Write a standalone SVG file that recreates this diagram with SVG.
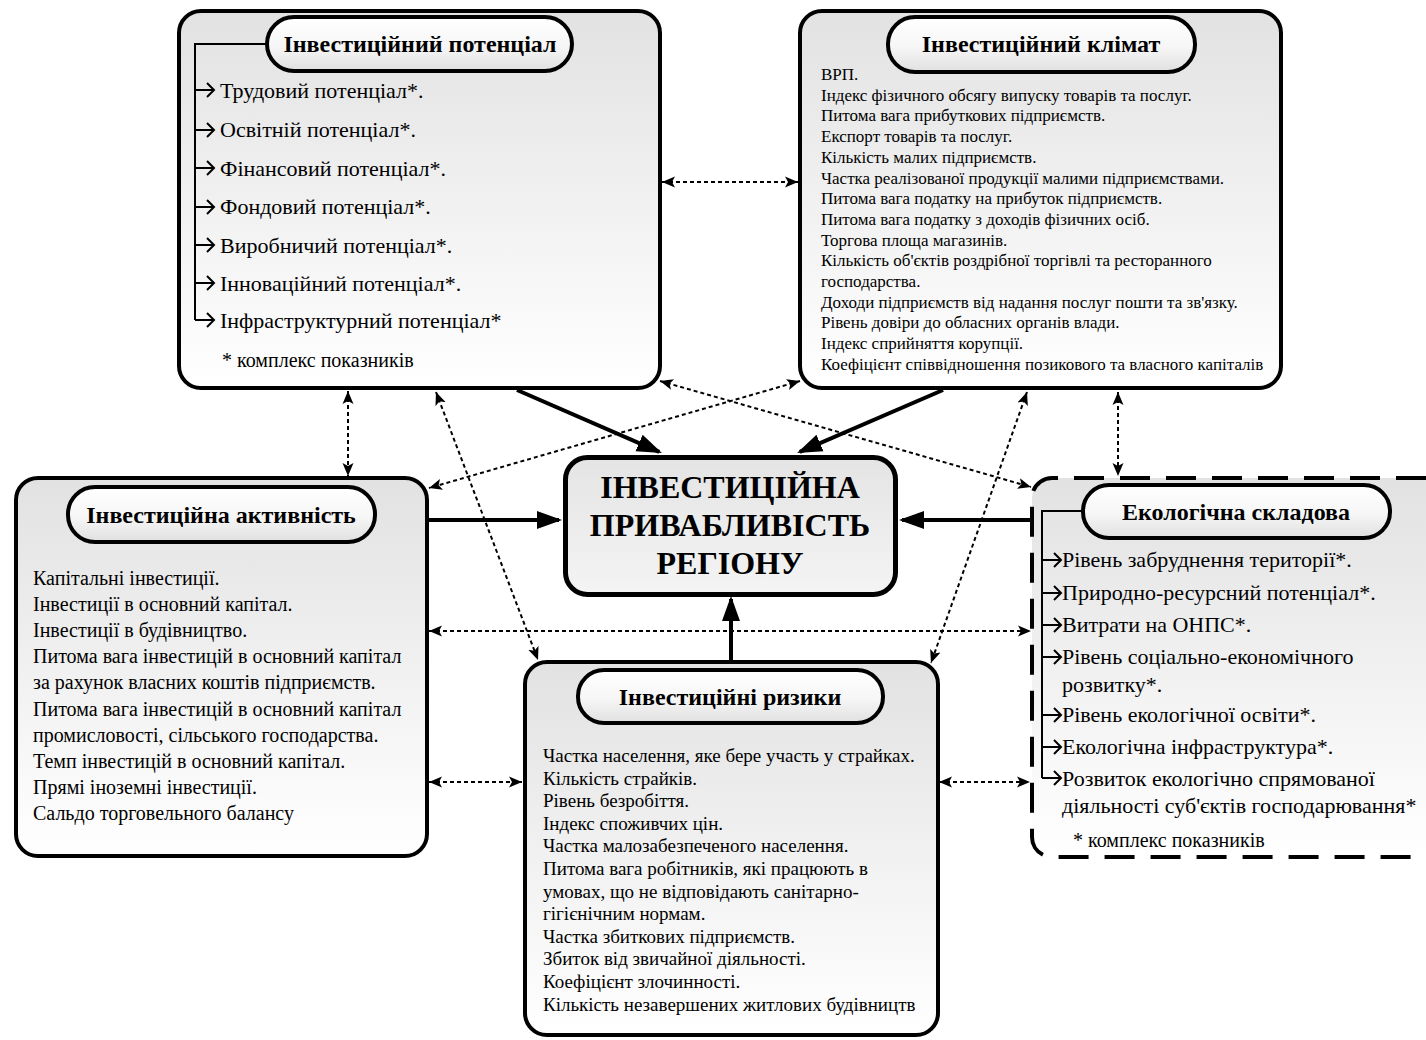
<svg xmlns="http://www.w3.org/2000/svg" width="1426" height="1040" viewBox="0 0 1426 1040">
  <defs>
    <linearGradient id="boxFill" x1="0" y1="0" x2="0" y2="1">
      <stop offset="0" stop-color="#e2e2e2"/>
      <stop offset="1" stop-color="#ffffff"/>
    </linearGradient>
    <linearGradient id="pillFill" x1="0" y1="0" x2="0" y2="1">
      <stop offset="0" stop-color="#ffffff"/>
      <stop offset="0.55" stop-color="#f6f6f6"/>
      <stop offset="1" stop-color="#e0e0e0"/>
    </linearGradient>
    <linearGradient id="centerFill" x1="0" y1="0" x2="0" y2="1">
      <stop offset="0" stop-color="#e4e4e4"/>
      <stop offset="1" stop-color="#f4f4f4"/>
    </linearGradient>
    <marker id="solidHead" markerUnits="userSpaceOnUse" markerWidth="26" markerHeight="20" viewBox="0 0 26 20" refX="22" refY="10" orient="auto">
      <path d="M0,1 L25,10 L0,19 z" fill="#000"/>
    </marker>
    <marker id="dotHead" markerUnits="userSpaceOnUse" markerWidth="14" markerHeight="12" viewBox="0 0 14 12" refX="13" refY="6" orient="auto-start-reverse">
      <path d="M0,0.5 L13,6 L0,11.5 L3,6 z" fill="#000"/>
    </marker>
    <marker id="chev" markerUnits="userSpaceOnUse" markerWidth="10" markerHeight="16" viewBox="0 0 10 16" refX="8" refY="8" orient="auto">
      <path d="M1,1 L8,8 L1,15" fill="none" stroke="#000" stroke-width="2"/>
    </marker>
    <style>
      .box { fill: url(#boxFill); stroke: #000; stroke-width: 4; }
      .pill { fill: url(#pillFill); stroke: #000; stroke-width: 4; }
      .title { font-family: "Liberation Serif", "Times New Roman", serif; font-weight: bold; font-size: 24px; text-anchor: middle; fill: #000; }
      .main { font-family: "Liberation Serif", "Times New Roman", serif; font-weight: bold; font-size: 32px; text-anchor: middle; fill: #000; }
      .txt { font-family: "Liberation Serif", "Times New Roman", serif; fill: #000; }
      .t22 { font-size: 22px; }
      .t20 { font-size: 20px; }
      .t19 { font-size: 19px; }
      .t17 { font-size: 17px; }
      .tree { fill: none; stroke: #000; stroke-width: 2; }
      .item { fill: none; stroke: #000; stroke-width: 2; marker-end: url(#chev); }
      .solid { fill: none; stroke: #000; stroke-width: 4; marker-end: url(#solidHead); }
      .dotted { fill: none; stroke: #000; stroke-width: 2; stroke-dasharray: 4 3; marker-start: url(#dotHead); marker-end: url(#dotHead); }
    </style>
  </defs>

  <rect width="1426" height="1040" fill="#ffffff"/>

  <!-- connectors -->
  <g id="connectors">
    <!-- main links into the central node -->
    <path class="solid" d="M517,390 L659.2,451.8"/>
    <path class="solid" d="M943,390 L799.8,451.8"/>
    <path class="solid" d="M428,520 L559,520"/>
    <path class="solid" d="M1032,520 L902,520"/>
    <path class="solid" d="M731,660 L731,599"/>
    <!-- mutual links between the factor groups -->
    <path class="dotted" d="M662,182 L798,182"/>
    <path class="dotted" d="M348,391 L348,476"/>
    <path class="dotted" d="M436,392 L538,660"/>
    <path class="dotted" d="M660,381 L1031,487"/>
    <path class="dotted" d="M800,381 L429,488"/>
    <path class="dotted" d="M1027,392 L931,663"/>
    <path class="dotted" d="M1118,392 L1118,476"/>
    <path class="dotted" d="M429,631 L1031,631"/>
    <path class="dotted" d="M429,782 L522,782"/>
    <path class="dotted" d="M939,782 L1030,782"/>
  </g>

  <!-- Інвестиційний потенціал -->
  <g id="node-potential">
    <rect class="box" x="179" y="11" width="481" height="377" rx="22"/>
    <path class="tree" d="M267,44 H195 V320"/>
    <path class="item" d="M195,90 H214"/>
    <path class="item" d="M195,130 H214"/>
    <path class="item" d="M195,168 H214"/>
    <path class="item" d="M195,207 H214"/>
    <path class="item" d="M195,245 H214"/>
    <path class="item" d="M195,283 H214"/>
    <path class="item" d="M195,320 H214"/>
    <rect class="pill" x="267" y="17" width="305" height="54" rx="27"/>
    <text class="title" x="420" y="52">Інвестиційний потенціал</text>
    <g class="txt t22">
      <text x="220" y="98">Трудовий потенціал*.</text>
      <text x="220" y="137">Освітній потенціал*.</text>
      <text x="220" y="176">Фінансовий потенціал*.</text>
      <text x="220" y="214">Фондовий потенціал*.</text>
      <text x="220" y="253">Виробничий потенціал*.</text>
      <text x="220" y="291">Інноваційний потенціал*.</text>
      <text x="220" y="328">Інфраструктурний потенціал*</text>
    </g>
    <text class="txt t20" x="222" y="367">* комплекс показників</text>
  </g>

  <!-- Інвестиційний клімат -->
  <g id="node-climate">
    <rect class="box" x="800" y="11" width="481" height="377" rx="22"/>
    <rect class="pill" x="888" y="17" width="307" height="55" rx="27"/>
    <text class="title" x="1041" y="52">Інвестиційний клімат</text>
    <g class="txt t17">
      <text x="821" y="80">ВРП.</text>
      <text x="821" y="100.7">Індекс фізичного обсягу випуску товарів та послуг.</text>
      <text x="821" y="121.4">Питома вага прибуткових підприємств.</text>
      <text x="821" y="142.1">Експорт товарів та послуг.</text>
      <text x="821" y="162.8">Кількість малих підприємств.</text>
      <text x="821" y="183.5">Частка реалізованої продукції малими підприємствами.</text>
      <text x="821" y="204.2">Питома вага податку на прибуток підприємств.</text>
      <text x="821" y="224.9">Питома вага податку з доходів фізичних осіб.</text>
      <text x="821" y="245.6">Торгова площа магазинів.</text>
      <text x="821" y="266.3">Кількість об'єктів роздрібної торгівлі та ресторанного</text>
      <text x="821" y="287">господарства.</text>
      <text x="821" y="307.7">Доходи підприємств від надання послуг пошти та зв'язку.</text>
      <text x="821" y="328.4">Рівень довіри до обласних органів влади.</text>
      <text x="821" y="349.1">Індекс сприйняття корупції.</text>
      <text x="821" y="369.8">Коефіцієнт співвідношення позикового та власного капіталів</text>
    </g>
  </g>

  <!-- Інвестиційна активність -->
  <g id="node-activity">
    <rect class="box" x="16" y="478" width="411" height="378" rx="22"/>
    <rect class="pill" x="68" y="487" width="307" height="55" rx="27"/>
    <text class="title" x="221" y="523">Інвестиційна активність</text>
    <g class="txt t20">
      <text x="33" y="585">Капітальні інвестиції.</text>
      <text x="33" y="611.1">Інвестиції в основний капітал.</text>
      <text x="33" y="637.2">Інвестиції в будівництво.</text>
      <text x="33" y="663.3">Питома вага інвестицій в основний капітал</text>
      <text x="33" y="689.4">за рахунок власних коштів підприємств.</text>
      <text x="33" y="715.5">Питома вага інвестицій в основний капітал</text>
      <text x="33" y="741.6">промисловості, сільського господарства.</text>
      <text x="33" y="767.7">Темп інвестицій в основний капітал.</text>
      <text x="33" y="793.8">Прямі іноземні інвестиції.</text>
      <text x="33" y="819.9">Сальдо торговельного балансу</text>
    </g>
  </g>

  <!-- Екологічна складова -->
  <g id="node-ecology">
    <path d="M1426,478 H1052 A20,20 0 0 0 1032,498 V837 A20,20 0 0 0 1052,857 H1426" fill="url(#boxFill)" stroke="#000" stroke-width="4" stroke-dasharray="30 16"/>
    <path class="tree" d="M1083,511 H1042 V778"/>
    <path class="item" d="M1042,560 H1061"/>
    <path class="item" d="M1042,593 H1061"/>
    <path class="item" d="M1042,625 H1061"/>
    <path class="item" d="M1042,657 H1061"/>
    <path class="item" d="M1042,715 H1061"/>
    <path class="item" d="M1042,747 H1061"/>
    <path class="item" d="M1042,778 H1061"/>
    <rect class="pill" x="1083" y="485" width="307" height="53" rx="26"/>
    <text class="title" x="1236" y="520">Екологічна складова</text>
    <g class="txt t22">
      <text x="1062" y="567">Рівень забруднення території*.</text>
      <text x="1062" y="600">Природно-ресурсний потенціал*.</text>
      <text x="1062" y="632">Витрати на ОНПС*.</text>
      <text x="1062" y="664">Рівень соціально-економічного</text>
      <text x="1062" y="692">розвитку*.</text>
      <text x="1062" y="722">Рівень екологічної освіти*.</text>
      <text x="1062" y="754">Екологічна інфраструктура*.</text>
      <text x="1062" y="786">Розвиток екологічно спрямованої</text>
      <text x="1062" y="813">діяльності суб'єктів господарювання*</text>
    </g>
    <text class="txt t20" x="1073" y="847">* комплекс показників</text>
  </g>

  <!-- Інвестиційні ризики -->
  <g id="node-risks">
    <rect class="box" x="525" y="662" width="413" height="373" rx="22"/>
    <rect class="pill" x="578" y="670" width="305" height="53" rx="26"/>
    <text class="title" x="730" y="705">Інвестиційні ризики</text>
    <g class="txt t19">
      <text x="543" y="762">Частка населення, яке бере участь у страйках.</text>
      <text x="543" y="784.6">Кількість страйків.</text>
      <text x="543" y="807.2">Рівень безробіття.</text>
      <text x="543" y="829.8">Індекс споживчих цін.</text>
      <text x="543" y="852.4">Частка малозабезпеченого населення.</text>
      <text x="543" y="875">Питома вага робітників, які працюють в</text>
      <text x="543" y="897.6">умовах, що не відповідають санітарно-</text>
      <text x="543" y="920.2">гігієнічним нормам.</text>
      <text x="543" y="942.8">Частка збиткових підприємств.</text>
      <text x="543" y="965.4">Збиток від звичайної діяльності.</text>
      <text x="543" y="988">Коефіцієнт злочинності.</text>
      <text x="543" y="1010.6">Кількість незавершених житлових будівництв</text>
    </g>
  </g>

  <!-- ІНВЕСТИЦІЙНА ПРИВАБЛИВІСТЬ РЕГІОНУ -->
  <g id="node-center">
    <rect x="565.5" y="457.5" width="330" height="137" rx="22" fill="url(#centerFill)" stroke="#000" stroke-width="5"/>
    <text class="main" x="730" y="498">ІНВЕСТИЦІЙНА</text>
    <text class="main" x="730" y="536">ПРИВАБЛИВІСТЬ</text>
    <text class="main" x="730" y="574">РЕГІОНУ</text>
  </g>
</svg>
